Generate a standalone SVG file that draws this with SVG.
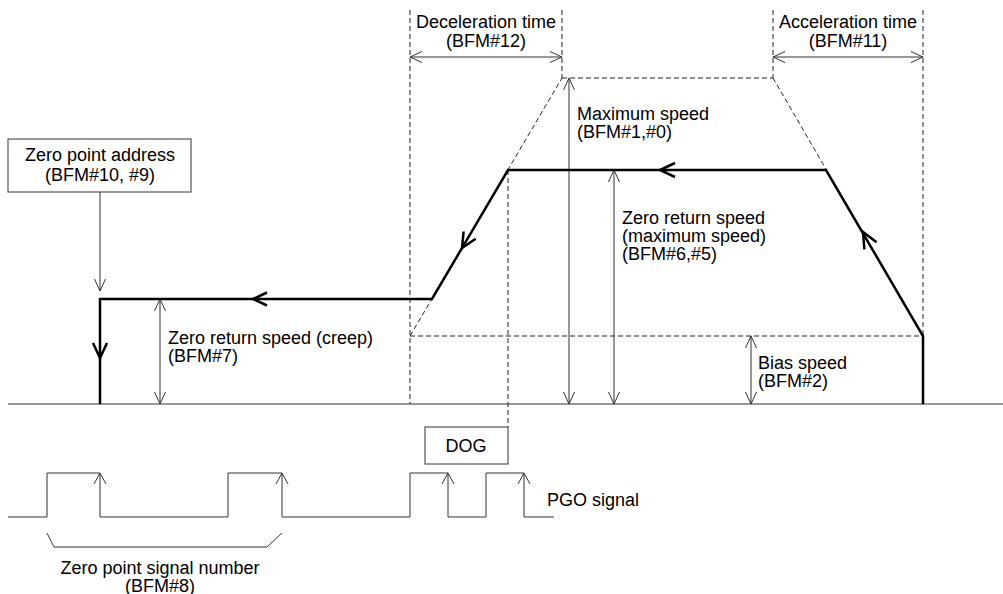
<svg xmlns="http://www.w3.org/2000/svg" width="1003" height="594" viewBox="0 0 1003 594">
<style>
text{font-family:"Liberation Sans",Arial,sans-serif;font-size:18px;fill:#000}
.c{text-anchor:middle}
.thin{stroke:#333;stroke-width:1;fill:none}
.thick{stroke:#000;stroke-width:2.5;fill:none;stroke-linejoin:miter}
.dash{stroke:#222;stroke-width:1;fill:none;stroke-dasharray:5 3}
.box{fill:#fff;stroke:#333;stroke-width:1}
.da{stroke:#333;stroke-width:1;fill:none;marker-start:url(#ah);marker-end:url(#ah)}
.sa{stroke:#333;stroke-width:1;fill:none;marker-end:url(#ah)}
</style>
<defs>
<marker id="ah" viewBox="0 0 12 12" refX="12" refY="6" markerWidth="12" markerHeight="12" markerUnits="userSpaceOnUse" orient="auto-start-reverse">
<path d="M0,0.5 L12,6 L0,11.5" fill="none" stroke="#333" stroke-width="1"/>
</marker>
</defs>
<rect width="1003" height="594" fill="#fff"/>

<g id="connectors">
<line class="thin" x1="8" y1="404" x2="1003" y2="404"/>
<line class="dash" x1="410" y1="10" x2="410" y2="404"/>
<line class="dash" x1="562" y1="10" x2="562" y2="78"/>
<line class="dash" x1="773" y1="10" x2="773" y2="78"/>
<line class="dash" x1="923" y1="10" x2="923" y2="336"/>
<line class="dash" x1="562" y1="78" x2="773" y2="78"/>
<polyline class="dash" points="410,336 562,78"/>
<polyline class="dash" points="773,78 923,336"/>
<line class="dash" x1="410" y1="336" x2="923" y2="336"/>
<line class="dash" x1="508" y1="170" x2="508" y2="427"/>
<line class="da" x1="410" y1="57" x2="562" y2="57"/>
<line class="da" x1="773" y1="57" x2="923" y2="57"/>
<line class="da" x1="569" y1="78" x2="569" y2="404"/>
<line class="da" x1="614" y1="170" x2="614" y2="404"/>
<line class="da" x1="751" y1="336" x2="751" y2="404"/>
<line class="da" x1="160" y1="299" x2="160" y2="404"/>
<line class="sa" x1="100" y1="192" x2="100" y2="291"/>
<polyline class="thick" points="923,404 923,336 826,170 508,170 432,299 100,299 100,404"/>
<polyline class="thick" points="675,163 660,170 675,177"/>
<polyline class="thick" points="267,292.5 253,299 267,305.5"/>
<polyline class="thick" points="93,343 100,358 107,343"/>
<polyline class="thick" points="475.7,238.7 462,248 463.6,231.5"/>
<polyline class="thick" points="876.6,242.3 863,232 864.4,249.3"/>
<polyline class="thin" points="8,517 47,517 47,473 100,473 100,517 228,517 228,473 282,473 282,517 410,517 410,473 448,473 448,517 486,517 486,473 524,473 524,517 554,517"/>
<polyline class="thin" points="94,484 100,473 106,484"/>
<polyline class="thin" points="276,484 282,473 288,484"/>
<polyline class="thin" points="442,484 448,473 454,484"/>
<polyline class="thin" points="518,484 524,473 530,484"/>
<polyline class="thin" points="47,533 54,547 267,547 282,533"/>
</g>

<g id="zero-point-address">
<rect class="box" x="8" y="139" width="183" height="53"/>
<text class="c" x="100" y="161">Zero point address</text>
<text class="c" x="100" y="181">(BFM#10, #9)</text>
</g>
<g id="deceleration-time">
<text class="c" x="486" y="28">Deceleration time</text>
<text class="c" x="486" y="47">(BFM#12)</text>
</g>
<g id="acceleration-time">
<text class="c" x="848" y="28">Acceleration time</text>
<text class="c" x="848" y="47">(BFM#11)</text>
</g>
<g id="maximum-speed">
<text x="577" y="120">Maximum speed</text>
<text x="577" y="138">(BFM#1,#0)</text>
</g>
<g id="zero-return-speed-max">
<text x="622" y="224">Zero return speed</text>
<text x="622" y="242">(maximum speed)</text>
<text x="622" y="260">(BFM#6,#5)</text>
</g>
<g id="zero-return-speed-creep">
<text x="168" y="344">Zero return speed (creep)</text>
<text x="168" y="362">(BFM#7)</text>
</g>
<g id="bias-speed">
<text x="758" y="369">Bias speed</text>
<text x="758" y="387">(BFM#2)</text>
</g>
<g id="dog">
<rect class="box" x="425" y="427" width="83" height="37"/>
<text class="c" x="466" y="452">DOG</text>
</g>
<g id="pgo-signal">
<text x="547" y="506">PGO signal</text>
</g>
<g id="zero-point-signal-number">
<text class="c" x="160" y="574">Zero point signal number</text>
<text class="c" x="160" y="592">(BFM#8)</text>
</g>
</svg>
